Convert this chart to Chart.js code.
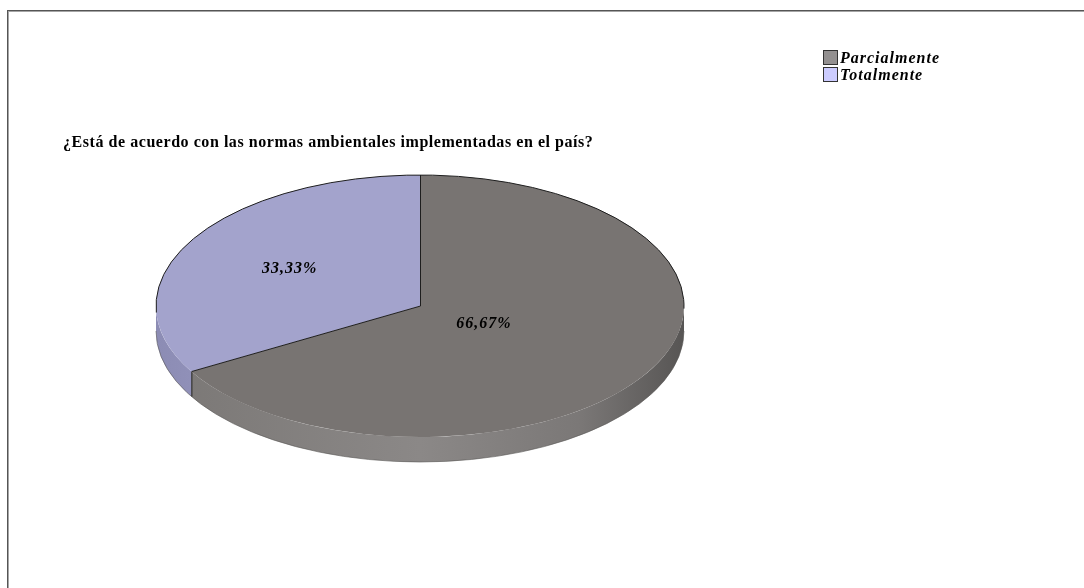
<!DOCTYPE html>
<html>
<head>
<meta charset="utf-8">
<script src="https://cdn.jsdelivr.net/npm/chart.js@4.4.1/dist/chart.umd.min.js"></script>
<style>
  html, body { margin: 0; padding: 0; background: #fff; }
  #wrap { position: relative; width: 1084px; height: 588px; overflow: hidden; }
  #frame {
    position: absolute; left: 7px; top: 10px; right: -4px; bottom: -4px;
    border-top: 1px solid #555; border-left: 1px solid #555;
    box-shadow: inset 1px 1px 0 #a5a5a5;
  }
  #title {
    position: absolute; left: 63px; top: 133px; white-space: nowrap;
    font: bold 16px "Liberation Serif", serif; letter-spacing: 0.55px; color: #000;
  }
  #legend {
    position: absolute; left: 823px; top: 49px;
    font: italic bold 16px "Liberation Serif", serif; letter-spacing: 1px; color: #000;
  }
  .item { display: flex; align-items: center; height: 17px; }
  .box { width: 13px; height: 13px; border: 1px solid #333; margin-right: 2px; }
  canvas { position: absolute; left: 0; top: 0; }
</style>
</head>
<body>
<div id="wrap">
  <div id="frame"></div>
  <canvas id="pie" width="1084" height="588"></canvas>
  <div id="title"></div>
  <div id="legend"></div>
</div>
<script>
  const chartTitle = "¿Está de acuerdo con las normas ambientales implementadas en el país?";
  const labels = ["Parcialmente", "Totalmente"];
  const values = [66.67, 33.33];
  const topColors = ["#787472", "#a3a3cc"];
  const legendColors = ["#939090", "#ccccff"];

  function fmtPct(v) {
    return v.toFixed(2).replace(".", ",") + "%";
  }

  document.getElementById("title").textContent = chartTitle;
  const legend = document.getElementById("legend");
  labels.forEach((l, i) => {
    const row = document.createElement("div");
    row.className = "item";
    row.innerHTML = `<span class="box" style="background:${legendColors[i]}"></span><span>${l}</span>`;
    legend.appendChild(row);
  });

  // side wall shading, left to right across the pie
  function sideFill(ctx, i, cx, rx) {
    const g = ctx.createLinearGradient(cx - rx, 0, cx + rx, 0);
    if (i === 0) {
      g.addColorStop(0, "#7a7775");
      g.addColorStop(0.5, "#8b8887");
      g.addColorStop(0.8, "#7b7877");
      g.addColorStop(1, "#575554");
    } else {
      g.addColorStop(0, "#8c8cb4");
      g.addColorStop(0.2, "#9898c0");
      g.addColorStop(1, "#9898c0");
    }
    return g;
  }

  // visible front part of [s, e] (angles in radians)
  function frontPart(s, e) {
    const out = [];
    [[0, Math.PI], [2 * Math.PI, 3 * Math.PI], [-2 * Math.PI, -Math.PI]].forEach(([a, b]) => {
      const lo = Math.max(s, a), hi = Math.min(e, b);
      if (hi > lo) out.push([lo, hi]);
    });
    return out;
  }

  const pie3d = {
    id: "pie3d",
    beforeDatasetsDraw(chart, args, opts) {
      const ctx = chart.ctx;
      const arcs = chart.getDatasetMeta(0).data;
      if (!arcs.length) return;
      const cx = arcs[0].x, cy = arcs[0].y, rx = arcs[0].outerRadius;
      const ry = rx * opts.tilt, d = opts.depth;

      arcs.forEach((arc, i) => {
        frontPart(arc.startAngle, arc.endAngle).forEach(([s, e]) => {
          ctx.beginPath();
          ctx.ellipse(cx, cy, rx, ry, 0, s, e);
          ctx.ellipse(cx, cy + d, rx, ry, 0, e, s, true);
          ctx.closePath();
          ctx.fillStyle = sideFill(ctx, i, cx, rx);
          ctx.fill();
        });
      });

      // bottom rim
      ctx.strokeStyle = "rgba(90,88,87,0.6)";
      ctx.lineWidth = 1;
      ctx.beginPath();
      ctx.ellipse(cx, cy + d, rx, ry, 0, 0, Math.PI);
      ctx.stroke();

      // squash the flat pie into an ellipse
      ctx.save();
      ctx.translate(cx, cy);
      ctx.scale(1, opts.tilt);
      ctx.translate(-cx, -cy);
    },
    afterDatasetsDraw(chart, args, opts) {
      const ctx = chart.ctx;
      const arcs = chart.getDatasetMeta(0).data;
      if (!arcs.length) return;
      ctx.restore();
      const cx = arcs[0].x, cy = arcs[0].y, rx = arcs[0].outerRadius;
      const ry = rx * opts.tilt, d = opts.depth;

      ctx.strokeStyle = "#1e1e1e";
      ctx.lineWidth = 1;
      ctx.beginPath();
      ctx.ellipse(cx, cy, rx, ry, 0, Math.PI - 0.05, 2 * Math.PI + 0.02);
      ctx.stroke();

      arcs.forEach((arc) => {
        const a = arc.startAngle;
        const px = cx + rx * Math.cos(a), py = cy + ry * Math.sin(a);
        ctx.beginPath();
        ctx.moveTo(cx + 0.5, cy);
        ctx.lineTo(px + 0.5, py);
        ctx.stroke();
        const na = ((a % (2 * Math.PI)) + 2 * Math.PI) % (2 * Math.PI);
        if (na > 0 && na < Math.PI) {
          ctx.beginPath();
          ctx.moveTo(px + 0.5, py);
          ctx.lineTo(px + 0.5, py + d);
          ctx.stroke();
        }
      });

      ctx.font = 'italic bold 16px "Liberation Serif", serif';
      ctx.letterSpacing = "1px";
      ctx.fillStyle = "#000";
      ctx.textAlign = "center";
      ctx.textBaseline = "middle";
      arcs.forEach((arc, i) => {
        const mid = (arc.startAngle + arc.endAngle) / 2;
        const f = opts.labelRadius[i];
        ctx.fillText(fmtPct(values[i]), cx + rx * f * Math.cos(mid), cy + ry * f * Math.sin(mid));
      });
    }
  };

  new Chart(document.getElementById("pie"), {
    type: "pie",
    data: {
      labels,
      datasets: [{
        data: values,
        backgroundColor: topColors,
        borderWidth: 0,
        hoverOffset: 0
      }]
    },
    options: {
      responsive: false,
      animation: false,
      events: [],
      layout: { padding: { left: 156, right: 400, top: 42, bottom: 18 } },
      plugins: {
        legend: { display: false },
        tooltip: { enabled: false },
        pie3d: { tilt: 131 / 264, depth: 25, labelRadius: [0.28, 0.57] }
      }
    },
    plugins: [pie3d]
  });
</script>
</body>
</html>
